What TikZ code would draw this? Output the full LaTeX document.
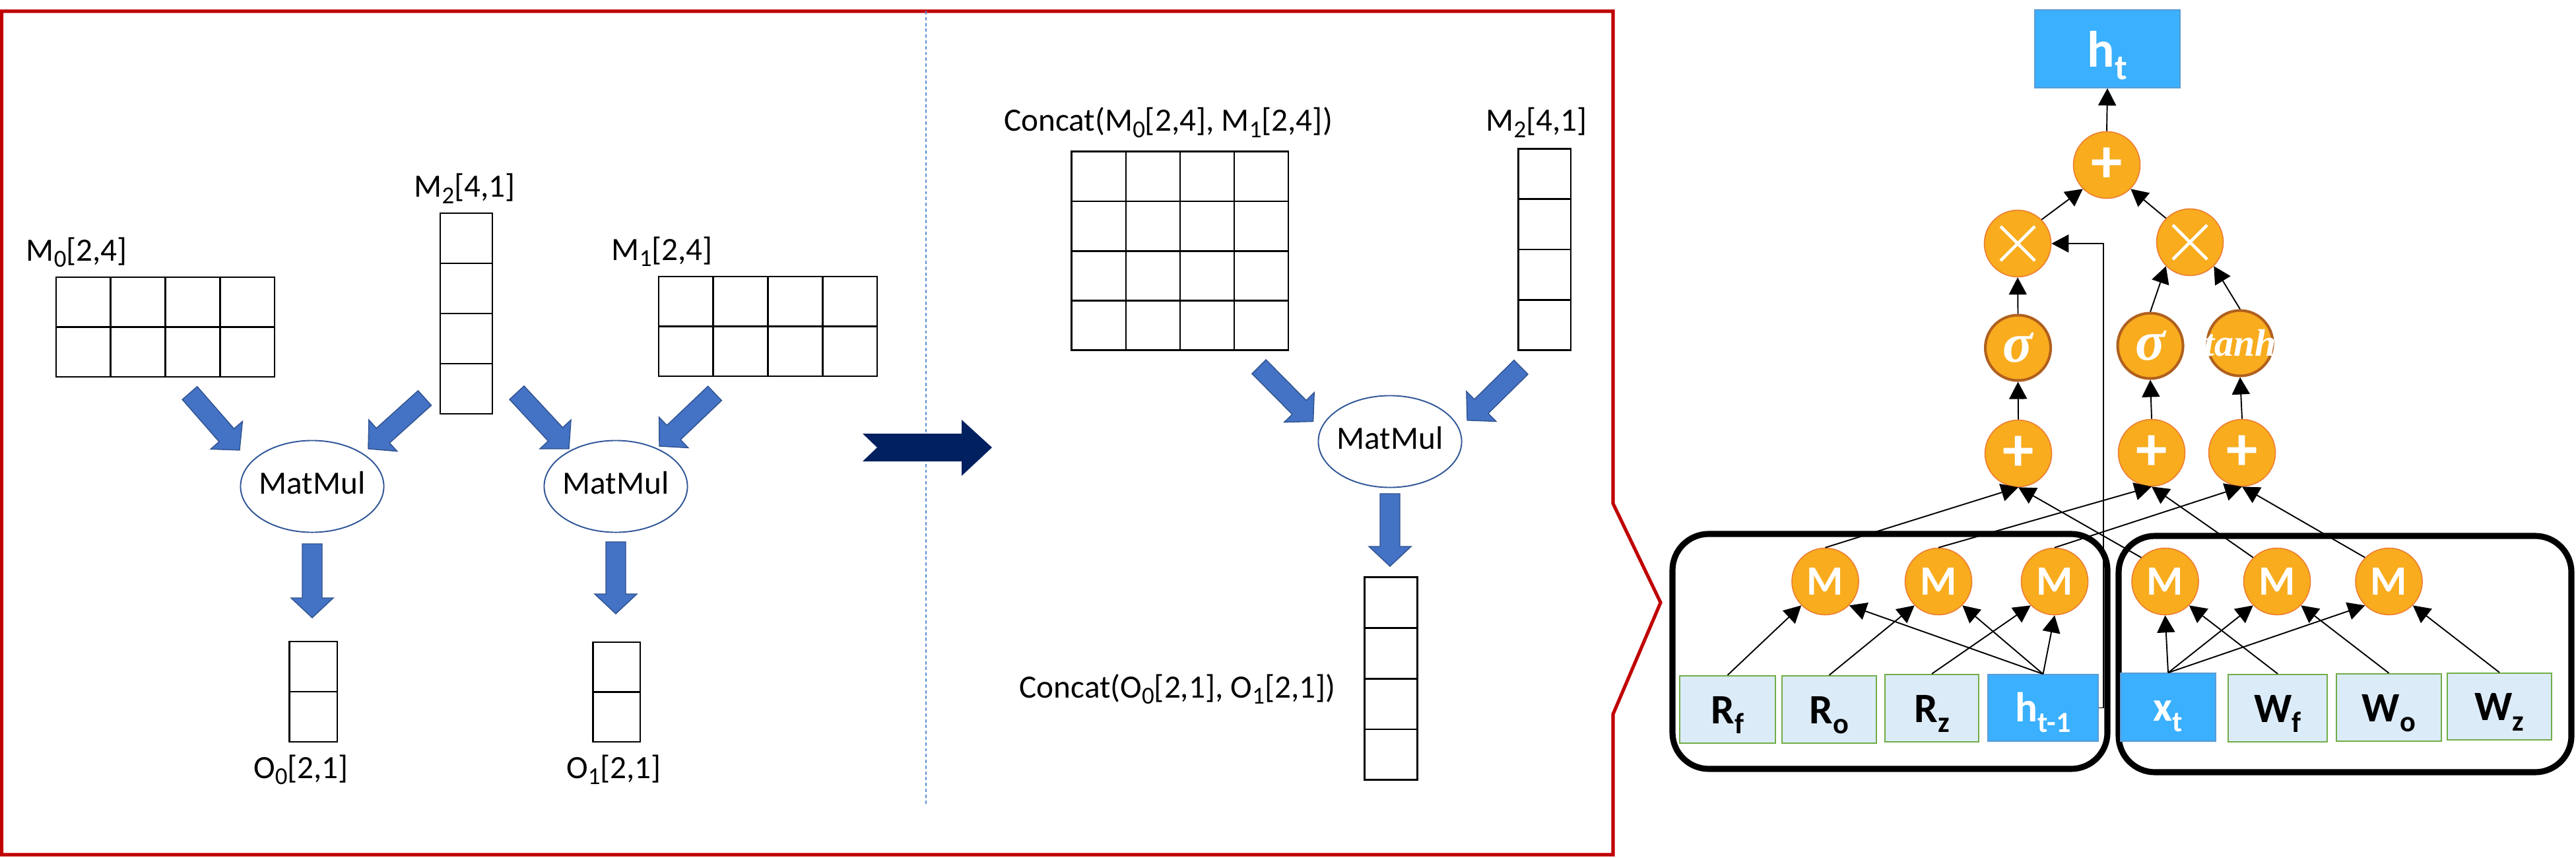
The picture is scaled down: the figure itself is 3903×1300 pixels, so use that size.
\documentclass[tikz,border=0pt]{standalone}
\usepackage{fontspec}
\usepackage{graphicx}
\setmainfont{Carlito}
\newfontfamily\serifbi{Liberation Serif}
\usetikzlibrary{arrows.meta,shapes.geometric,calc}
\definecolor{redframe}{HTML}{C00000}
\definecolor{navyarr}{HTML}{002060}
\definecolor{barfill}{HTML}{4472C4}
\definecolor{barline}{HTML}{2F528F}
\definecolor{ellline}{HTML}{2F5597}
\definecolor{dashblue}{HTML}{5B8FD9}
\definecolor{orfill}{HTML}{F8AC1E}
\definecolor{orline}{HTML}{ED7D31}
\definecolor{brownline}{HTML}{B0601E}
\definecolor{brblue}{HTML}{3AB0FF}
\definecolor{brblueline}{HTML}{5B9BD5}
\definecolor{ltblue}{HTML}{DCEBF8}
\definecolor{grline}{HTML}{70AD47}
\newcommand{\sbs}[1]{\raisebox{-0.2em}{\scalebox{0.75}{#1}}}
\newcommand{\sbsb}[1]{\raisebox{-0.25em}{\scalebox{0.7}{#1}}}
\newcommand{\matgrid}[6]{%
  \foreach \mgi in {1,...,#3}{\foreach \mgj in {1,...,#4}{%
    \draw[gridline] ({#1+(\mgi-1)*#5},{#2+(\mgj-1)*#6}) rectangle ++(#5,#6);}}}
\newcommand{\blockarrow}[3]{%
  \coordinate (bt) at (#2); \coordinate (bp) at (#3);
  \coordinate (bb) at ($(bp)!0.30cm!(bt)$);
  \filldraw[#1] ($(bt)!0.15cm!90:(bp)$) -- ($(bb)!0.15cm!-90:(bt)$) -- ($(bb)!0.32cm!-90:(bt)$) -- (bp) -- ($(bb)!0.32cm!90:(bt)$) -- ($(bb)!0.15cm!90:(bt)$) -- ($(bt)!0.15cm!-90:(bp)$) -- cycle;}
\tikzset{
  gridline/.style={draw=black, line width=0.75pt},
  lbl/.style={inner sep=0pt, font=\fontsize{14}{16}\selectfont},
  mmell/.style={ellipse, draw=ellline, line width=0.55pt, minimum width=2.17cm, minimum height=1.39cm, inner sep=0pt},
  bar/.style={fill=barfill, draw=barline, line width=0.4pt},
  ocirc/.style={circle, fill=orfill, draw=orline, line width=0.45pt, minimum size=1.01cm, inner sep=0pt, text=white, font=\bfseries\fontsize{18}{18}\selectfont},
  pcirc/.style={ocirc, font=\bfseries\fontsize{27}{28}\selectfont},
  scirc/.style={ocirc, draw=brownline, line width=1.15pt, minimum size=0.99cm, font=\serifbi\bfseries\itshape\fontsize{24}{24}\selectfont},
  lbox/.style={rectangle, fill=ltblue, draw=grline, line width=0.6pt, inner sep=0pt, text height=0.45cm, text depth=0.03cm, font=\bfseries\fontsize{18}{18}\selectfont},
  bbox/.style={lbox, fill=brblue, draw=brblueline, line width=0.4pt, text=white},
  rbox/.style={draw=black, line width=2.6pt, rounded corners=0.55cm},
  conn/.style={draw=black, line width=0.55pt, -{Triangle[length=7.4pt,width=7.7pt]}},
  xline/.style={draw=white, line width=1.3pt}
}
\begin{document}
\begin{tikzpicture}[x=0.01cm,y=-0.01cm]
\useasboundingbox (0,0) rectangle (3903,1300);
% ---------- left panel frame ----------
\draw[redframe, line width=1.45pt] (2.5,17) -- (2444,17) -- (2444,763) -- (2516,913) -- (2444,1082) -- (2444,1295) -- (2.5,1295) -- cycle;
\draw[dashblue, line width=0.6pt, dash pattern=on 1.4pt off 1.1pt] (1403,17) -- (1403,1219);
\fill[navyarr] (1307,657) -- (1457,657) -- (1457,636) -- (1503,678) -- (1457,721) -- (1457,699) -- (1307,699) -- (1329,678) -- cycle;
% ---------- matrices ----------
\matgrid{85}{420}{4}{2}{82.75}{75.5}
\matgrid{667}{323}{1}{4}{79}{76}
\matgrid{998}{419}{4}{2}{82.75}{75.5}
\matgrid{438.5}{972}{1}{2}{72.5}{76}
\matgrid{898.5}{973}{1}{2}{71.5}{75.5}
\matgrid{1623.7}{229.7}{4}{4}{82.1}{75.25}
\matgrid{2300.5}{225.5}{1}{4}{79.5}{76.3}
\matgrid{2067.7}{874.8}{1}{4}{79.7}{76.7}
% ---------- labels ----------
\node[lbl, anchor=base west] (lm0) at (39,395) {M\sbs{0}[2,4]};
\node[lbl, anchor=base] (lm2) at (704,298.5) {M\sbs{2}[4,1]};
\node[lbl, anchor=base west] (lm1) at (926,394) {M\sbs{1}[2,4]};
\node[lbl, anchor=base] (lo0) at (456,1179) {O\sbs{0}[2,1]};
\node[lbl, anchor=base] (lo1) at (930,1179) {O\sbs{1}[2,1]};
\node[lbl, anchor=base] (lcm) at (1770,199) {Concat(M\sbs{0}[2,4], M\sbs{1}[2,4])};
\node[lbl, anchor=base] (lm2b) at (2328,199) {M\sbs{2}[4,1]};
\node[lbl, anchor=base east] (lco) at (2024,1057) {Concat(O\sbs{0}[2,1], O\sbs{1}[2,1])};
% ---------- MatMul ellipses ----------
\node[mmell] (mm1) at (473,737) {};
\node[lbl, anchor=base] (mm1t) at (473,748) {MatMul};
\node[mmell] (mm2) at (933,737) {};
\node[lbl, anchor=base] (mm2t) at (933,748) {MatMul};
\node[mmell] (mm3) at (2106,669) {};
\node[lbl, anchor=base] (mm3t) at (2106,680) {MatMul};
% ---------- block arrows ----------
\blockarrow{bar}{287.5,595.5}{363,682}
\blockarrow{bar}{643.5,603}{558,680}
\blockarrow{bar}{783,595}{862,680}
\blockarrow{bar}{1083,596}{999,676}
\blockarrow{bar}{473,824}{473,936}
\blockarrow{bar}{933,821}{933,930}
\blockarrow{bar}{1907.5,555.6}{1989.6,638.5}
\blockarrow{bar}{2304.5,556.4}{2223,636.8}
\blockarrow{bar}{2106,748}{2106,858}
% ---------- right panel ----------
\draw[rbox] (2534,809) rectangle (3193,1165);
\draw[rbox] (3210,812) rectangle (3896,1170);
\node[bbox, minimum width=2.2cm, minimum height=1.18cm, font=\bfseries\fontsize{22}{24}\selectfont, text height=0.56cm, text depth=0.02cm] (ht) at (3193,74) {h\sbsb{t}};
\node[pcirc] (ptop) at (3192,250) {+};
\node[ocirc] (xl) at (3057,369) {};
\node[ocirc] (xr) at (3318,367) {};
\foreach \n in {xl,xr}{
  \draw[xline] ([shift={(-26,-26)}]\n.center) -- ([shift={(26,26)}]\n.center);
  \draw[xline] ([shift={(-26,26)}]\n.center) -- ([shift={(26,-26)}]\n.center);
}
\node[scirc] (sl) at (3057.5,527) {σ};
\node[scirc] (sm) at (3258,524) {σ};
\node[scirc] (th) at (3394,520) {};
\node[inner sep=0pt, text=white, font=\serifbi\bfseries\itshape\fontsize{16.5}{16.5}\selectfont] (thl) at (th.center) {tanh};
\node[pcirc] (pl) at (3058,687) {+};
\node[pcirc] (pm) at (3260,686) {+};
\node[pcirc] (pr) at (3397,686) {+};
\node[ocirc] (m1) at (2765.5,881) {M};
\node[ocirc] (m2) at (2937,881) {M};
\node[ocirc] (m3) at (3113,881) {M};
\node[ocirc] (m4) at (3280.5,881) {M};
\node[ocirc] (m5) at (3450,881) {M};
\node[ocirc] (m6) at (3619.5,881) {M};
\node[lbox, minimum width=1.45cm, minimum height=1.02cm] (rf) at (2617.5,1075) {R\sbsb{f}};
\node[lbox, minimum width=1.43cm, minimum height=1.02cm] (ro) at (2771.5,1075) {R\sbsb{o}};
\node[lbox, minimum width=1.42cm, minimum height=1.02cm] (rz) at (2927,1073) {R\sbsb{z}};
\node[bbox, minimum width=1.67cm, minimum height=1.01cm] (htm) at (3095.5,1072.5) {h\sbsb{t-1}};
\node[bbox, minimum width=1.44cm, minimum height=1.03cm] (xt) at (3285,1071.5) {x\sbsb{t}};
\node[lbox, minimum width=1.50cm, minimum height=1.02cm] (wf) at (3451,1073) {W\sbsb{f}};
\node[lbox, minimum width=1.59cm, minimum height=1.02cm] (wo) at (3619.5,1072) {W\sbsb{o}};
\node[lbox, minimum width=1.58cm, minimum height=1.01cm] (wz) at (3787,1070.5) {W\sbsb{z}};
% ---------- connectors ----------
\draw[conn] (ptop.north) -- (ht.south);
\draw[conn] (xl.north east) -- (ptop.south west);
\draw[conn] (xr.north west) -- (ptop.south east);
\draw[conn] (sl.north) -- (xl.south);
\draw[conn] (sm.north) -- (xr.south west);
\draw[conn] (th.north) -- (xr.south east);
\draw[conn] (pl.north) -- (sl.south);
\draw[conn] (pm.north) -- (sm.south);
\draw[conn] (pr.north) -- (th.south);
\draw[conn] (m1.north) -- (pl.south);
\draw[conn] (m4.north west) -- (pl.south);
\draw[conn] (m2.north) -- (pm.south);
\draw[conn] (m5.north west) -- (pm.south);
\draw[conn] (m3.north) -- (pr.south);
\draw[conn] (m6.north west) -- (pr.south);
\draw[conn] (rf.north) -- (m1.south west);
\draw[conn] (ro.north) -- (m2.south west);
\draw[conn] (rz.north) -- (m3.south west);
\draw[conn] (htm.north) -- (m1.south east);
\draw[conn] (htm.north) -- (m2.south east);
\draw[conn] (htm.north) -- (m3.south);
\draw[conn] (xt.north) -- (m4.south);
\draw[conn] (xt.north) -- (m5.south west);
\draw[conn] (xt.north) -- (m6.south west);
\draw[conn] (wf.north) -- (m4.south east);
\draw[conn] (wo.north) -- (m5.south east);
\draw[conn] (wz.north) -- (m6.south east);
\coordinate (fb) at (3187,369);
\draw[conn] (htm.east) -| (fb) -- (xl.east);
\end{tikzpicture}
\end{document}
